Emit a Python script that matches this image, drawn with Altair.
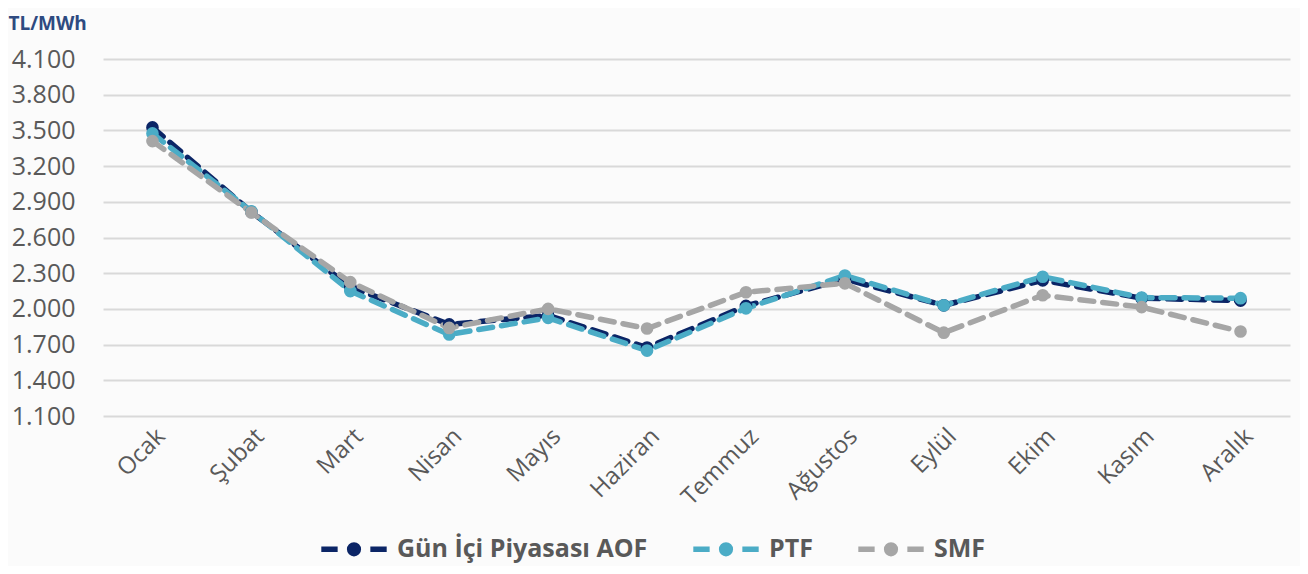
import altair as alt
import pandas as pd

months = ["Ocak", "Şubat", "Mart", "Nisan", "Mayıs", "Haziran", "Temmuz",
          "Ağustos", "Eylül", "Ekim", "Kasım", "Aralık"]
series_names = ["Gün İçi Piyasası AOF", "PTF", "SMF"]
aof = [3525, 2815, 2185, 1870, 1945, 1675, 2025, 2250, 2030, 2240, 2090, 2070]
ptf = [3475, 2820, 2150, 1785, 1925, 1650, 2005, 2280, 2030, 2270, 2095, 2090]
smf = [3410, 2810, 2225, 1840, 2000, 1835, 2140, 2215, 1800, 2115, 2015, 1810]
y_ticks = [1100, 1400, 1700, 2000, 2300, 2600, 2900, 3200, 3500, 3800, 4100]
colors = ["#0b2566", "#4bacc6", "#a6a6a6"]

rows = []
for name, vals in zip(series_names, [aof, ptf, smf]):
    for i, (m, v) in enumerate(zip(months, vals)):
        rows.append({"Ay": m, "Seri": name, "Değer": v, "order": i})
df = pd.DataFrame(rows)

legend_symbol = ("M-1.5,0 L-0.75,0 M0.75,0 L1.5,0 "
                 "M-0.2,0 A0.2,0.2 0 1,0 0.2,0 A0.2,0.2 0 1,0 -0.2,0")

chart = alt.Chart(df).mark_line(
    strokeWidth=5.5, strokeDash=[14, 9], strokeCap="round",
    point=alt.OverlayMarkDef(filled=True, size=160, opacity=1)
).encode(
    x=alt.X("Ay:N", sort=months, scale=alt.Scale(type="point", padding=0.5),
            axis=alt.Axis(title=None, labelAngle=-45, labelFontSize=24,
                          labelColor="#595959", labelFont="Open Sans",
                          ticks=False, domain=False, grid=False, labelPadding=8)),
    y=alt.Y("Değer:Q", scale=alt.Scale(domain=[1100, 4100], nice=False, zero=False),
            axis=alt.Axis(values=y_ticks, title="TL/MWh",
                          labelExpr="replace(format(datum.value, ','), ',', '.')",
                          labelFontSize=25, labelColor="#595959", labelFont="Open Sans",
                          labelPadding=28, ticks=False, domain=False,
                          gridColor="#d9d9d9", gridWidth=2,
                          titleAngle=0, titleX=-95, titleY=-26, titleAlign="left",
                          titleBaseline="bottom",
                          titleFont="Open Sans", titleFontSize=19, titleFontWeight="bold",
                          titleColor="#2e4a80")),
    color=alt.Color("Seri:N", sort=series_names,
                    scale=alt.Scale(domain=series_names, range=colors),
                    legend=alt.Legend(title=None, orient="none", direction="horizontal",
                                      legendX=226, legendY=465,
                                      symbolType=legend_symbol, symbolSize=1900,
                                      symbolStrokeWidth=5.5, labelFontSize=25,
                                      labelFont="Open Sans", labelFontWeight="bold",
                                      labelColor="#595959", labelOffset=18,
                                      labelLimit=0, columnPadding=34)),
    order="order:Q",
).properties(
    width=1187, height=357,
    autosize=alt.AutoSizeParams(type="none"),
    padding={"left": 95, "top": 51, "right": 10, "bottom": 150},
    background="#fbfbfb",
).configure_view(stroke=None)

chart.save("out.html", embed_options={"renderer": "svg", "actions": False})
